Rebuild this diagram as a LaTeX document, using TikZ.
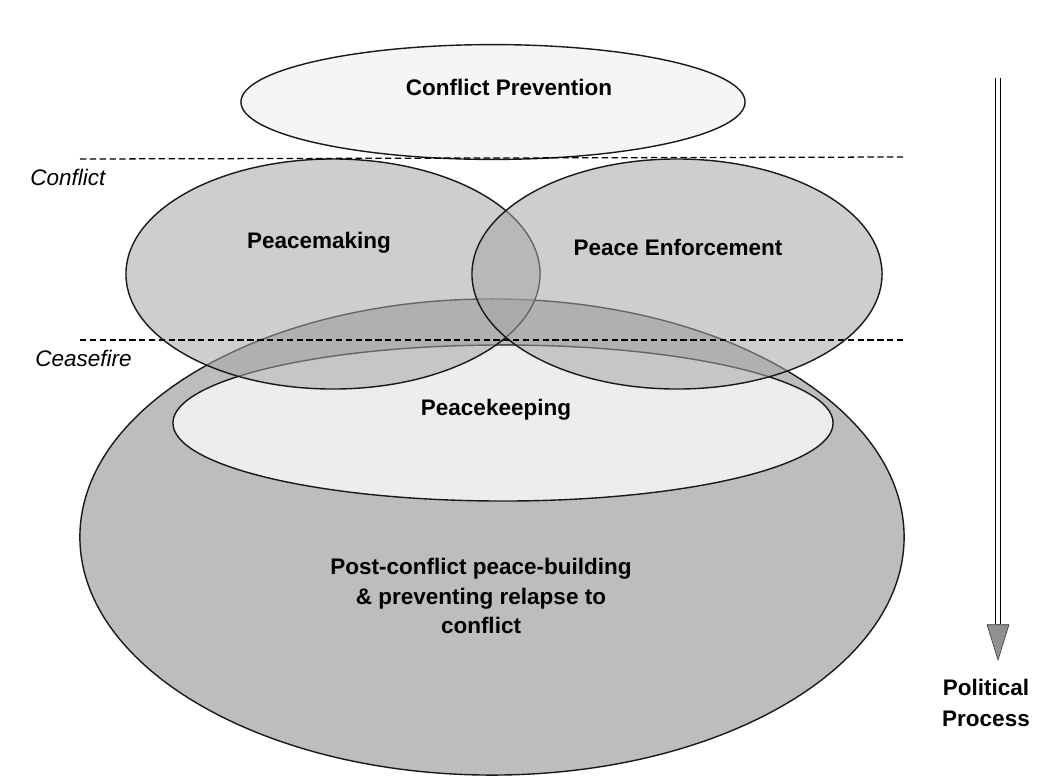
\documentclass[tikz,border=0pt]{standalone}
\usepackage{fontspec}
\setmainfont{Liberation Sans}
\usepackage{xcolor}
\usepackage{tikz}
\usetikzlibrary{shapes.geometric,arrows.meta,positioning}

\begin{document}
\begin{tikzpicture}[
  x=0.025cm, y=-0.025cm,
  font=\bfseries\fontsize{16}{21}\selectfont,
  zone/.style={ellipse, draw=black!90, line width=1pt, inner sep=0pt},
  light/.style={zone, fill=gray!8},
  pale/.style={zone, fill=gray!14},
  dark/.style={zone, fill=gray!52},
  ring/.style={zone, fill=gray!70, fill opacity=0.55},
  sep/.style={dashed, line width=0.9pt, dash pattern=on 4.5pt off 2.5pt},
  stage/.style={font=\itshape\fontsize{16}{19}\selectfont, anchor=west, inner sep=0pt},
  txt/.style={align=center, inner sep=0pt}
]
\useasboundingbox (0,0) rectangle (1048,778);

% ---------------- phases ----------------
\node[dark, minimum width=20.6cm, minimum height=11.9cm] (build) at (492,537) {};
\node[pale, minimum width=16.5cm, minimum height=3.9cm] (keep) at (503,423) {};
\node[ring, minimum width=10.35cm, minimum height=5.75cm] (make) at (333,274) {};
\node[ring, minimum width=10.25cm, minimum height=5.75cm] (enf) at (677,274) {};
\node[light, minimum width=12.6cm, minimum height=2.87cm] (prev) at (493,102) {};

\node[txt] (tprev) at (509,87) {Conflict Prevention};
\node[txt] (tmake) at (319,243) {Peacemaking};
\node[txt] (tenf) at (678,247) {Peace Enforcement};
\node[txt] (tkeep) at (496,410) {Peacekeeping};
\node[txt] (tbuild) at (481,596) {Post-conflict peace-building\\\& preventing relapse to\\conflict};

% ---------------- stages ----------------
\coordinate (c1) at (80,159);
\coordinate (c2) at (903,157);
\coordinate (s1) at (80,340);
\coordinate (s2) at (903,340);
\draw[sep] (c1) -- (c2);
\draw[sep] (s1) -- (s2);
\node[stage] (conf) at (30,177) {Conflict};
\node[stage] (cease) at (35,358) {Ceasefire};

% ---------------- political process ----------------
\coordinate (ptop) at (998,78);
\coordinate (pmid) at (998,624);
\coordinate (pend) at (998,661);
\draw[double=white, double distance=2.6pt, line width=0.9pt] (ptop) -- (pmid);
\draw[line width=0.4pt, -{Triangle[width=16pt, length=26pt, fill=gray!55!black!60, color=black!80]}] (pmid) -- (pend);
\node[txt, font=\bfseries\fontsize{16}{22.5}\selectfont] (pol) at (986,703) {Political\\Process};
\end{tikzpicture}
\end{document}
